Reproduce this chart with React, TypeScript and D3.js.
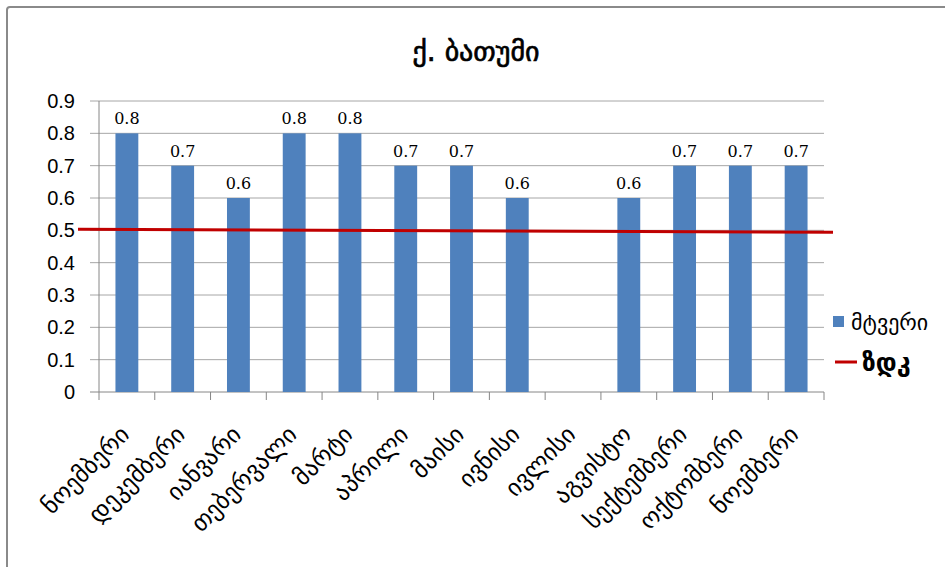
import React from 'react';
import * as d3 from 'd3';

const title = 'ქ. ბათუმი';
const categories = ['ნოემბერი', 'დეკემბერი', 'იანვარი', 'თებერვალი', 'მარტი', 'აპრილი', 'მაისი', 'ივნისი', 'ივლისი', 'აგვისტო', 'სექტემბერი', 'ოქტომბერი', 'ნოემბერი'];
const dustValues: (number | null)[] = [0.8, 0.7, 0.6, 0.8, 0.8, 0.7, 0.7, 0.6, null, 0.6, 0.7, 0.7, 0.7];
const zdkValues = [0.503, 0.494];
const yTicks = [0, 0.1, 0.2, 0.3, 0.4, 0.5, 0.6, 0.7, 0.8, 0.9];
const seriesNames = ['მტვერი', 'ზდკ'];

const W = 945;
const H = 567;
const plot = { left: 99, right: 824, top: 101, bottom: 392 };
const BAR = '#4F81BD';
const RED = '#C00000';
const GEO = '"DejaVu Sans", sans-serif';

export default function App() {
  const idx = categories.map((_, i) => String(i));
  const x = d3.scaleBand<string>().domain(idx).range([plot.left, plot.right]).paddingInner(0.59).paddingOuter(0.295);
  const y = d3.scaleLinear().domain([0, 0.9]).range([plot.bottom, plot.top]);
  const step = x.step();
  const lineX0 = plot.left - 21;
  const lineX1 = plot.right + 9;
  const zdkLine = d3.line<number>().x((_, i) => (i === 0 ? lineX0 : lineX1)).y((d) => y(d));

  return (
    <svg width={W} height={H} style={{ position: 'absolute', left: 0, top: 0, background: '#fff' }}>
      <rect x={7} y={7} width={W + 10} height={H + 10} fill="#fff" stroke="#8a8a8a" strokeWidth={2} rx={3} />
      <text x={476} y={61} textAnchor="middle" fontFamily={GEO} fontSize={28} fill="#000" stroke="#000" strokeWidth={0.7}>{title}</text>
      {yTicks.map((t) => (
        <g key={t}>
          <line x1={plot.left - 9} x2={plot.right} y1={y(t)} y2={y(t)} stroke={t === 0 ? '#868686' : '#a6a6a6'} strokeWidth={1} />
          <text x={75} y={y(t)} dy="0.35em" textAnchor="end" fontFamily='"Liberation Sans", Arial, sans-serif' fontSize={20} fill="#000">{t === 0 ? '0' : t.toFixed(1)}</text>
        </g>
      ))}
      <line x1={plot.left} x2={plot.left} y1={plot.top} y2={plot.bottom + 8} stroke="#868686" />
      {categories.map((_, i) => {
        const bx = plot.left + step * (i + 1);
        return <line key={'t' + i} x1={bx} x2={bx} y1={plot.bottom} y2={plot.bottom + 8} stroke="#868686" />;
      })}
      {dustValues.map((v, i) =>
        v == null ? null : (
          <g key={'b' + i}>
            <rect x={x(String(i))!} y={y(v)} width={x.bandwidth()} height={plot.bottom - y(v)} fill={BAR} />
            <text x={x(String(i))! + x.bandwidth() / 2} y={y(v) - 9} textAnchor="middle" fontFamily='"DejaVu Serif", serif' fontSize={16} fill="#000">{v.toFixed(1)}</text>
          </g>
        )
      )}
      <path d={zdkLine(zdkValues)!} stroke={RED} strokeWidth={3} fill="none" />
      {categories.map((c, i) => {
        const cx = x(String(i))! + x.bandwidth() / 2;
        return (
          <text key={'l' + i} transform={`translate(${cx + 4},${436}) rotate(-45)`} textAnchor="end" fontFamily={GEO} fontSize={24} fill="#000">{c}</text>
        );
      })}
      <rect x={833} y={316} width={11} height={11} fill={BAR} />
      <text x={851} y={322} dy="0.35em" fontFamily={GEO} fontSize={22} fill="#000">{seriesNames[0]}</text>
      <line x1={835} x2={857} y1={362} y2={362} stroke={RED} strokeWidth={3} />
      <text x={862} y={362} dy="0.35em" fontFamily={GEO} fontSize={25} fontWeight="bold" fill="#000">{seriesNames[1]}</text>
    </svg>
  );
}
